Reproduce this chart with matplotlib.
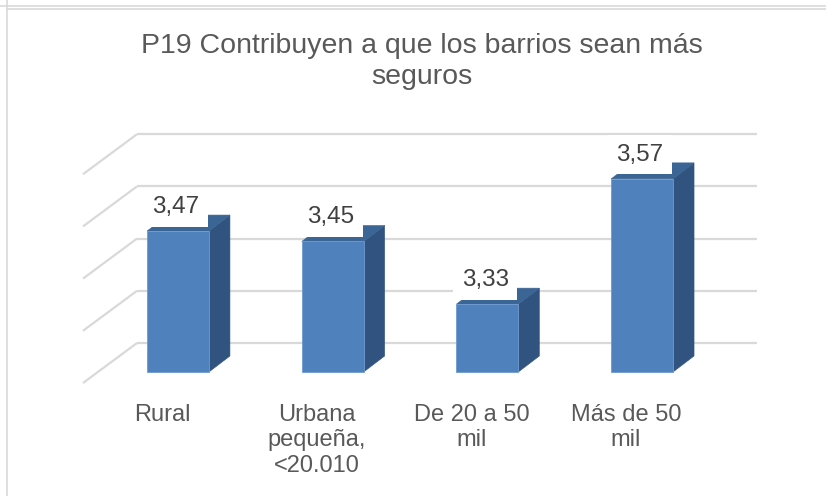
import matplotlib
matplotlib.use("Agg")
import matplotlib.pyplot as plt
from matplotlib.patches import Polygon
from matplotlib.lines import Line2D

# ---- data ----
categories = ["Rural", "Urbana\npequeña,\n<20.010", "De 20 a 50\nmil", "Más de 50\nmil"]
values = [3.47, 3.45, 3.33, 3.57]
value_labels = ["3,47", "3,45", "3,33", "3,57"]
gridline_values = [3.2, 3.3, 3.4, 3.5, 3.6]
title = "P19 Contribuyen a que los barrios sean más\nseguros"

# ---- layout (pixel-based) ----
W, H = 826, 496
plt.rcParams['font.family'] = ['Liberation Sans', 'DejaVu Sans']
fig = plt.figure(figsize=(W / 100, H / 100), dpi=100)
ax = fig.add_axes([0, 0, 1, 1])
ax.set_axis_off()

vmin = 3.2
ppu_y = 522.0      # pixels per value unit
ppu_x = 154.7      # pixels per category
x0_px, y0_px = 178.0, 372.0
ax.set_xlim(-x0_px / ppu_x, (W - x0_px) / ppu_x)
ax.set_ylim(vmin - (H - y0_px) / ppu_y, vmin + y0_px / ppu_y)

def px_dx(p):
    return p / ppu_x

def px_dy(p):
    return p / ppu_y

grid_col = "#d9d9d9"
# back wall + left wall gridlines
wall_dy = px_dy(29)
xl_back = px_dx(137 - x0_px)
xr_back = px_dx(757 - x0_px)
xl_front = px_dx(83 - x0_px)
front_dy = -px_dy(11)
for g in gridline_values:
    ax.add_line(Line2D([xl_back, xr_back], [g + wall_dy, g + wall_dy],
                       color=grid_col, lw=1.6, zorder=1, solid_capstyle='butt'))
    ax.add_line(Line2D([xl_front, xl_back], [g + front_dy, g + wall_dy],
                       color=grid_col, lw=1.6, zorder=1, solid_capstyle='butt'))

# bars
bw = 0.40
ddx = px_dx(21)
ddy = px_dy(16)
xs = list(range(len(values)))
front_col = "#4f81bd"
side_col = "#31537f"
top_col = "#3b6594"
ax.bar(xs, [v - vmin for v in values], bottom=vmin, width=bw, color=front_col,
       edgecolor="#6f9ad0", linewidth=0.6, zorder=3)
for x, v in zip(xs, values):
    r = x + bw / 2
    l = x - bw / 2
    side = Polygon([(r, vmin), (r + ddx, vmin + ddy), (r + ddx, v + ddy), (r, v)],
                   closed=True, facecolor=side_col, edgecolor=side_col, lw=0.4, zorder=2)
    top = Polygon([(l, v), (r, v), (r + ddx, v + ddy), (l + ddx, v + ddy)],
                  closed=True, facecolor=top_col, edgecolor=top_col, lw=0.4, zorder=2)
    ax.add_patch(side)
    ax.add_patch(top)

# data labels
txt_col = "#404040"
for x, v, s in zip(xs, values, value_labels):
    ax.text(x - px_dx(2), v + px_dy(18), s, ha='center', va='baseline',
            fontsize=17.5, color=txt_col, zorder=6,
            bbox=dict(boxstyle='square,pad=0.35', facecolor='white', edgecolor='none'))

# category labels
for x, c in zip(xs, categories):
    ax.text(x - px_dx(16), vmin - px_dy(404 - y0_px), c, ha='center', va='top',
            fontsize=17, color="#595959", linespacing=1.2, zorder=6)

# title
fig.text(422 / W, 1 - 33 / H, title, ha='center', va='top', fontsize=20.5,
         color="#595959", linespacing=1.25)

# chart border lines
fig.add_artist(Line2D([6.5 / W, 6.5 / W], [0, 1], transform=fig.transFigure,
                      color=grid_col, lw=1.2))
fig.add_artist(Line2D([0, 1], [1 - 5.5 / H, 1 - 5.5 / H], transform=fig.transFigure,
                      color=grid_col, lw=1.2))
fig.add_artist(Line2D([6.5 / W, 1], [1 - 8.8 / H, 1 - 8.8 / H], transform=fig.transFigure,
                      color=grid_col, lw=1.2))

fig.savefig("out.png", dpi=100, facecolor='white')
